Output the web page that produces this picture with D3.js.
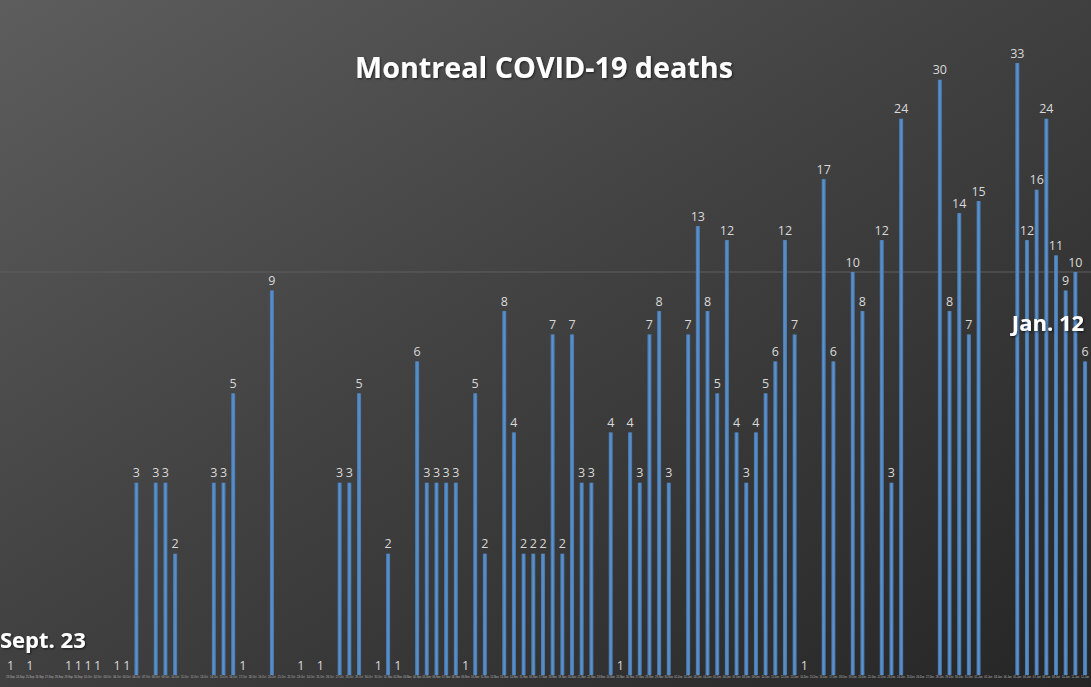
<!DOCTYPE html>
<html>
<head>
<meta charset="utf-8">
<script src="https://cdn.jsdelivr.net/npm/d3@7"></script>
<style>
  html, body { margin: 0; padding: 0; background: #333; }
  svg { display: block; }
</style>
</head>
<body>
<svg id="chart" width="1091" height="687"></svg>
<script>
// ---- Data ----
const title = "Montreal COVID-19 deaths";
const startDate = "2020-09-23";
const endDate = "2021-01-12";
// daily deaths, one entry per day from Sept. 23 to Jan. 12 (null = no deaths reported)
const deaths = [
  1, null, 1, null, null, null, 1, 1, 1, 1,
  null, 1, 1, 3, null, 3, 3, 2, null, null,
  null, 3, 3, 5, 1, null, null, 9, null, null,
  1, null, 1, null, 3, 3, 5, null, 1, 2,
  1, null, 6, 3, 3, 3, 3, 1, 5, 2,
  null, 8, 4, 2, 2, 2, 7, 2, 7, 3,
  3, null, 4, 1, 4, 3, 7, 8, 3, null,
  7, 13, 8, 5, 12, 4, 3, 4, 5, 6,
  12, 7, 1, null, 17, 6, null, 10, 8, null,
  12, 3, 24, null, null, null, 30, 8, 14, 7,
  15, null, null, null, 33, 12, 16, 24, 11, 9,
  10, 6
];
const gridValues = [10];
const annotations = [
  { text: "Sept. 23", index: 0, anchor: "start", y: 648 },
  { text: "Jan. 12", index: 111, anchor: "end", y: 331 }
];

// ---- Build ----
const W = 1091, H = 687;
const parse = d3.timeParse("%Y-%m-%d");
const days = d3.timeDay.range(parse(startDate), d3.timeDay.offset(parse(endDate), 1));
const fmt = d3.timeFormat("%d-%b");
const data = days.map((d, i) => ({ date: d, key: fmt(d), value: deaths[i] }));

const svg = d3.select("#chart");
const defs = svg.append("defs");

const bg = defs.append("linearGradient").attr("id", "bg")
  .attr("x1", 0).attr("y1", 0).attr("x2", 1).attr("y2", 1);
bg.append("stop").attr("offset", "0%").attr("stop-color", "#5d5d5d");
bg.append("stop").attr("offset", "45%").attr("stop-color", "#424242");
bg.append("stop").attr("offset", "100%").attr("stop-color", "#252525");

const barG = defs.append("linearGradient").attr("id", "bar")
  .attr("x1", 0).attr("y1", 0).attr("x2", 1).attr("y2", 0);
barG.append("stop").attr("offset", "0%").attr("stop-color", "#4274ab");
barG.append("stop").attr("offset", "50%").attr("stop-color", "#5e93cc");
barG.append("stop").attr("offset", "100%").attr("stop-color", "#4274ab");

const shadow = defs.append("filter").attr("id", "shadow")
  .attr("x", "-5%").attr("y", "-20%").attr("width", "110%").attr("height", "140%");
shadow.append("feDropShadow").attr("dx", 1).attr("dy", 1).attr("stdDeviation", 1)
  .attr("flood-color", "#000").attr("flood-opacity", 0.6);

svg.append("rect").attr("width", W).attr("height", H).attr("fill", "url(#bg)");

const x = d3.scaleBand()
  .domain(data.map(d => d.key))
  .range([5.7, 1089.9])
  .paddingInner(0.58)
  .paddingOuter(0.29);

const y = d3.scaleLog().domain([1, 100]).range([675, -131]);

// gridlines
svg.append("g").selectAll("line").data(gridValues).join("line")
  .attr("x1", 0).attr("x2", W)
  .attr("y1", d => y(d)).attr("y2", d => y(d))
  .attr("stroke", "#5e5e5e").attr("stroke-width", 1);

// x axis with tiny date labels
const xAxis = d3.axisBottom(x).tickSize(0).tickPadding(1.5);
const ax = svg.append("g").attr("transform", `translate(0,${y(1)})`).call(xAxis);
ax.select(".domain").remove();
ax.selectAll("text")
  .attr("fill", "#bdbdbd")
  .attr("font-family", "Liberation Sans, sans-serif")
  .attr("font-size", 2.6);

// bars
const bars = data.filter(d => d.value != null);
svg.append("g").selectAll("rect").data(bars).join("rect")
  .attr("x", d => x(d.key))
  .attr("width", x.bandwidth())
  .attr("y", d => y(d.value))
  .attr("height", d => y(1) - y(d.value))
  .attr("fill", "url(#bar)");

// value labels
svg.append("g").selectAll("text").data(bars).join("text")
  .attr("x", d => x(d.key) + x.bandwidth() / 2)
  .attr("y", d => y(d.value) - 5.5)
  .attr("text-anchor", "middle")
  .attr("fill", "#d9d9d9")
  .attr("font-family", "Open Sans, sans-serif")
  .attr("font-size", 12.5)
  .text(d => d.value);

// title
const t = svg.append("text")
  .attr("x", 544).attr("y", 78)
  .attr("text-anchor", "middle")
  .attr("fill", "#ffffff")
  .attr("font-family", "Open Sans, sans-serif")
  .attr("font-weight", "bold")
  .attr("font-size", 28)
  .attr("filter", "url(#shadow)")
  .text(title);
const tw = t.node().getComputedTextLength();
t.attr("font-size", 28 * 378 / tw);

// annotations
annotations.forEach(a => {
  const cx = x(data[a.index].key) + x.bandwidth() / 2;
  svg.append("text")
    .attr("x", a.anchor === "start" ? 0 : cx - 1)
    .attr("y", a.y)
    .attr("text-anchor", a.anchor)
    .attr("fill", "#ffffff")
    .attr("font-family", "Open Sans, sans-serif")
    .attr("font-weight", "bold")
    .attr("font-size", 22)
    .attr("filter", "url(#shadow)")
    .text(a.text);
});
</script>
</body>
</html>
